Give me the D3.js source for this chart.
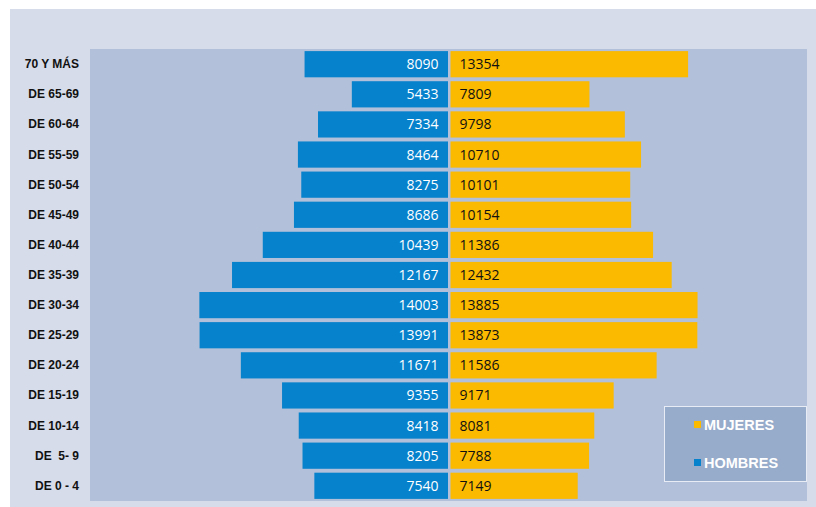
<!DOCTYPE html>
<html>
<head>
<meta charset="utf-8">
<script src="https://cdn.jsdelivr.net/npm/d3@7"></script>
<style>
  body { margin: 0; background: #fff; }
  svg { display: block; }
</style>
</head>
<body>
<div id="chart"></div>
<script>
// grupos de edad, de arriba hacia abajo
const grupos = ["70 Y MÁS", "DE 65-69", "DE 60-64", "DE 55-59", "DE 50-54", "DE 45-49",
  "DE 40-44", "DE 35-39", "DE 30-34", "DE 25-29", "DE 20-24", "DE 15-19",
  "DE 10-14", "DE  5- 9", "DE 0 - 4"];
const hombres = [8090, 5433, 7334, 8464, 8275, 8686, 10439, 12167, 14003, 13991, 11671, 9355, 8418, 8205, 7540];
const mujeres = [13354, 7809, 9798, 10710, 10101, 10154, 11386, 12432, 13885, 13873, 11586, 9171, 8081, 7788, 7149];
const leyenda = ["MUJERES", "HOMBRES"];

const W = 816, H = 507;
const plot = { left: 90, top: 49, right: 807, bottom: 501 };

const svg = d3.select("#chart").append("svg")
    .attr("width", W)
    .attr("height", H);

// fondo exterior
svg.append("rect")
    .attr("x", 10).attr("y", 9)
    .attr("width", W - 10).attr("height", H - 9)
    .attr("fill", "#d6dce9");

// área del gráfico
svg.append("rect")
    .attr("x", plot.left).attr("y", plot.top)
    .attr("width", plot.right - plot.left).attr("height", plot.bottom - plot.top)
    .attr("fill", "#b2c1d9");

const x = d3.scaleLinear()
    .domain([-20150, 20150])
    .range([plot.left, plot.right]);

const y = d3.scaleBand()
    .domain(grupos)
    .range([plot.top, plot.bottom])
    .paddingInner(0.13)
    .paddingOuter(0.07);

const datos = grupos.map((g, i) => ({ g, h: hombres[i], m: mujeres[i] }));

// barras hombres (izquierda)
svg.selectAll(".hom")
    .data(datos)
    .enter().append("rect")
    .attr("class", "hom")
    .attr("x", d => x(-d.h))
    .attr("y", d => y(d.g))
    .attr("width", d => x(0) - x(-d.h) - 0.5)
    .attr("height", y.bandwidth())
    .attr("fill", "#0681cc");

// barras mujeres (derecha)
svg.selectAll(".muj")
    .data(datos)
    .enter().append("rect")
    .attr("class", "muj")
    .attr("x", x(0) + 2)
    .attr("y", d => y(d.g))
    .attr("width", d => x(d.m) - x(0))
    .attr("height", y.bandwidth())
    .attr("fill", "#fbb900");

// etiquetas de valores
svg.selectAll(".vh")
    .data(datos)
    .enter().append("text")
    .attr("x", x(0) - 10)
    .attr("y", d => y(d.g) + y.bandwidth() / 2 + 5)
    .attr("text-anchor", "end")
    .attr("font-family", "'Open Sans', sans-serif")
    .attr("font-size", 14)
    .attr("fill", "#ffffff")
    .text(d => d.h);

svg.selectAll(".vm")
    .data(datos)
    .enter().append("text")
    .attr("x", x(0) + 11)
    .attr("y", d => y(d.g) + y.bandwidth() / 2 + 5)
    .attr("font-family", "'Open Sans', sans-serif")
    .attr("font-size", 14)
    .attr("fill", "#111111")
    .text(d => d.m);

// eje de categorías
svg.selectAll(".cat")
    .data(grupos)
    .enter().append("text")
    .attr("x", 79)
    .attr("y", d => y(d) + y.bandwidth() / 2 + 4)
    .attr("text-anchor", "end")
    .attr("font-family", "'Liberation Sans', Arial, sans-serif")
    .attr("font-weight", "bold")
    .attr("font-size", 12)
    .attr("fill", "#111111")
    .style("white-space", "pre")
    .text(d => d);

// leyenda
const leg = svg.append("g");
leg.append("rect")
    .attr("x", 664.5).attr("y", 406.5)
    .attr("width", 142).attr("height", 75)
    .attr("fill", "#97abca")
    .attr("stroke", "#e8ecf4")
    .attr("stroke-width", 1);

const colLeg = ["#fbb900", "#0681cc"];
leyenda.forEach((t, i) => {
    const yy = 425 + i * 38;
    leg.append("rect")
        .attr("x", 694).attr("y", yy - 4)
        .attr("width", 7).attr("height", 7)
        .attr("fill", colLeg[i]);
    leg.append("text")
        .attr("x", 704).attr("y", yy + 5)
        .attr("font-family", "'Liberation Sans', Arial, sans-serif")
        .attr("font-weight", "bold")
        .attr("font-size", 14.5)
        .attr("fill", "#ffffff")
        .text(t);
});
</script>
</body>
</html>
